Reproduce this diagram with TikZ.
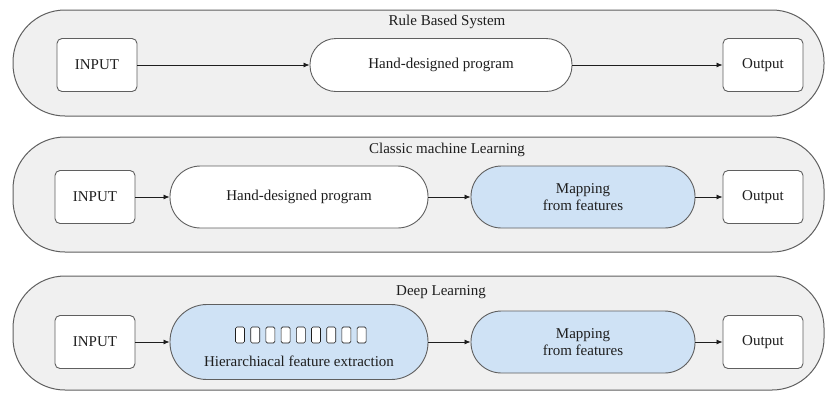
\documentclass[tikz,border=0pt]{standalone}
\usepackage{fontspec}
\setmainfont{Liberation Serif}
\usetikzlibrary{arrows.meta}
\definecolor{linegray}{RGB}{95,95,95}
\definecolor{panelgray}{RGB}{240,240,240}
\definecolor{featblue}{RGB}{207,226,245}
\definecolor{textcol}{RGB}{30,30,30}
\newcommand{\fsz}{\fontsize{15}{17}\selectfont}
\begin{document}
\begin{tikzpicture}[x=1pt,y=-1pt,
  panel/.style={draw=linegray, fill=panelgray, line width=1pt, rounded corners=52pt},
  ttl/.style={text=textcol, font=\fsz, inner sep=0pt},
  box/.style={draw=linegray, fill=white, line width=0.9pt, rounded corners=5pt, inner sep=0pt,
    text=textcol, font=\fsz, minimum width=80pt, minimum height=53pt},
  pill/.style={draw=linegray, line width=0.9pt, inner sep=0pt, text=textcol, font=\fsz, align=center},
  sqbox/.style={draw=textcol, fill=white, line width=0.6pt, rounded corners=1.5pt, inner sep=0pt,
    minimum width=9pt, minimum height=16pt},
  arr/.style={draw=textcol, line width=0.8pt, -{Latex[length=6pt,width=5pt]}}]
\useasboundingbox (0,0) rectangle (826,392);

% panels
\draw[panel] (13,10) rectangle (824,116);
\draw[panel] (13,137) rectangle (824,252);
\draw[panel] (13,276) rectangle (824,390);

\node[ttl] (t1) at (447,22) {Rule Based System};
\node[ttl] (t2) at (447,150) {Classic machine Learning};
\node[ttl] (t3) at (441,292) {Deep Learning};

% row 1
\node[box] (in1) at (97,65) {INPUT};
\node[pill, fill=white, minimum width=262pt, minimum height=53pt, rounded corners=26pt] (prog1) at (441,65) {Hand-designed program};
\node[box] (out1) at (763,65) {Output};
\draw[arr] (in1) -- (prog1);
\draw[arr] (prog1) -- (out1);

% row 2
\node[box] (in2) at (95,197) {INPUT};
\node[pill, fill=white, minimum width=258pt, minimum height=62pt, rounded corners=30.5pt] (prog2) at (299,197) {Hand-designed program};
\node[pill, fill=featblue, minimum width=224pt, minimum height=62pt, rounded corners=30.5pt] (map2) at (583,197) {Mapping\\from features};
\node[box] (out2) at (763,197) {Output};
\draw[arr] (in2) -- (prog2);
\draw[arr] (prog2) -- (map2);
\draw[arr] (map2) -- (out2);

% row 3
\node[box] (in3) at (95,342) {INPUT};
\node[pill, fill=featblue, minimum width=258pt, minimum height=75pt, rounded corners=37pt] (hier3) at (299,342) {};
\foreach \i in {0,...,8} {
  \node[sqbox] (sq\i) at (240+15.2*\i,335) {};
}
\node[ttl] (htxt) at (299,361) {Hierarchiacal feature extraction};
\node[pill, fill=featblue, minimum width=224pt, minimum height=62pt, rounded corners=30.5pt] (map3) at (583,342) {Mapping\\from features};
\node[box] (out3) at (763,342) {Output};
\draw[arr] (in3) -- (hier3);
\draw[arr] (hier3) -- (map3);
\draw[arr] (map3) -- (out3);
\end{tikzpicture}
\end{document}
